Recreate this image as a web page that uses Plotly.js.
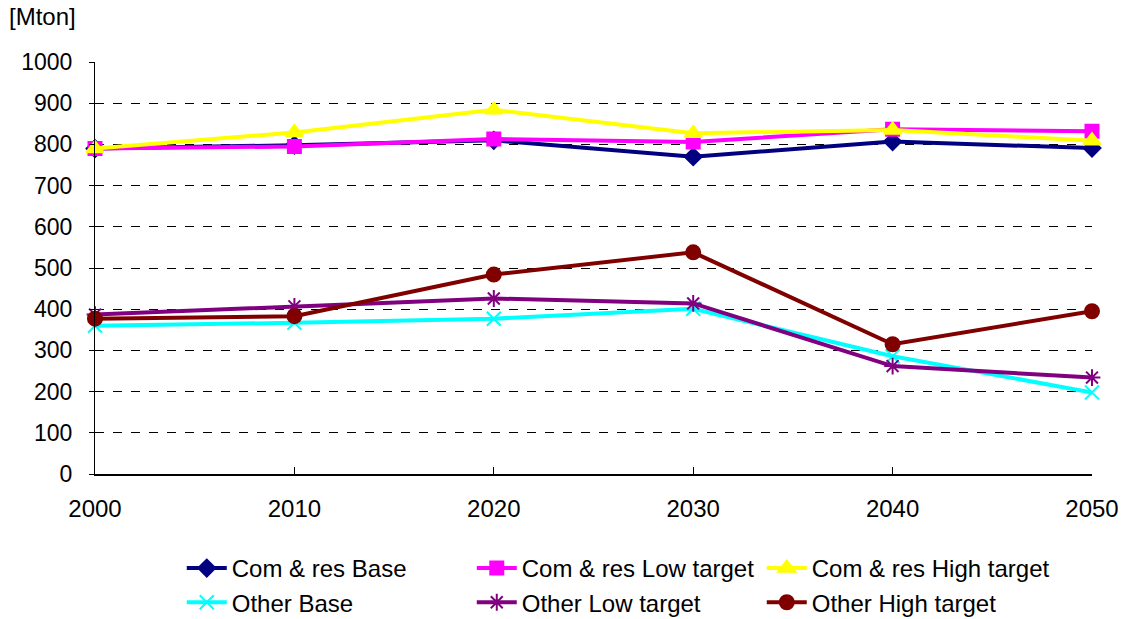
<!DOCTYPE html>
<html>
<head>
<meta charset="utf-8">
<script src="https://cdn.plot.ly/plotly-3.0.1.min.js"></script>
<style>html,body{margin:0;padding:0;background:#fff;}#chart{width:1129px;height:619px;}</style>
</head>
<body>
<div id="chart"></div>
<script>
const years = [2000, 2010, 2020, 2030, 2040, 2050];
const comResBase = [790, 798, 810, 770, 807, 791];
const comResLow = [790, 795, 813, 806, 837, 832];
const comResHigh = [790, 829, 884, 827, 835, 809];
const otherBase = [360, 367, 377, 401, 286, 198];
const otherLow = [387, 407, 426, 414, 262, 234];
const otherHigh = [377, 383, 484, 538, 315, 395];
const yTicks = [0, 100, 200, 300, 400, 500, 600, 700, 800, 900, 1000];
const xTicks = [2000, 2010, 2020, 2030, 2040, 2050];

const seriesDefs = [
  {name: 'Com & res Base', y: comResBase, color: '#000080', symbol: 'diamond', size: 13},
  {name: 'Com & res Low target', y: comResLow, color: '#FF00FF', symbol: 'square', size: 13},
  {name: 'Com & res High target', y: comResHigh, color: '#FFFF00', symbol: 'triangle-up', size: 15},
  {name: 'Other Base', y: otherBase, color: '#00FFFF', symbol: 'x-thin-open', size: 14},
  {name: 'Other Low target', y: otherLow, color: '#800080', symbol: 'asterisk-open', size: 14},
  {name: 'Other High target', y: otherHigh, color: '#800000', symbol: 'circle', size: 14}
];

const traces = seriesDefs.map(s => ({
  x: years, y: s.y, name: s.name, type: 'scatter', mode: 'lines+markers',
  cliponaxis: false,
  line: {color: s.color, width: 4},
  marker: {color: s.color, symbol: s.symbol, size: s.size, line: {color: s.color, width: 2}}
}));

const baseFamily = 'Liberation Sans, Arial, sans-serif';
const yFont = {family: baseFamily, size: 23, color: '#000'};
const xFont = {family: baseFamily, size: 24, color: '#000'};
const legFont = {family: baseFamily, size: 24, color: '#000'};

const layout = {
  width: 1129, height: 619,
  margin: {l: 95, r: 37, t: 62, b: 145},
  paper_bgcolor: '#fff', plot_bgcolor: '#fff',
  font: yFont,
  showlegend: true,
  xaxis: {
    range: [2000, 2050], tickvals: xTicks, ticktext: xTicks.map(String),
    showgrid: false, zeroline: false, showline: true, linecolor: '#000', linewidth: 2,
    ticks: 'inside', ticklen: 7, tickcolor: '#000', tickwidth: 1,
    ticklabelstandoff: 12, tickfont: xFont
  },
  yaxis: {
    range: [0, 1000], tickvals: yTicks, ticktext: yTicks.map(String),
    showgrid: true, gridcolor: '#000', griddash: 'dash', gridwidth: 1,
    zeroline: false, showline: true, linecolor: '#000', linewidth: 1,
    ticks: 'outside', ticklen: 5, tickcolor: '#000', tickwidth: 1,
    ticklabelstandoff: 12, tickfont: yFont
  },
  legend: {
    orientation: 'h', xref: 'container', yref: 'container',
    x: 0.161, y: 0.118, xanchor: 'left', yanchor: 'top',
    entrywidth: 235, entrywidthmode: 'pixels',
    font: legFont, tracegroupgap: 0, itemwidth: 40,
    bgcolor: 'rgba(0,0,0,0)'
  },
  annotations: [{
    text: '[Mton]', xref: 'paper', yref: 'paper', x: -0.0885, y: 1.0,
    xanchor: 'left', yanchor: 'bottom', yshift: 30, showarrow: false, font: legFont
  }]
};

Plotly.newPlot('chart', traces, layout, {displayModeBar: false, staticPlot: true});
</script>
</body>
</html>
